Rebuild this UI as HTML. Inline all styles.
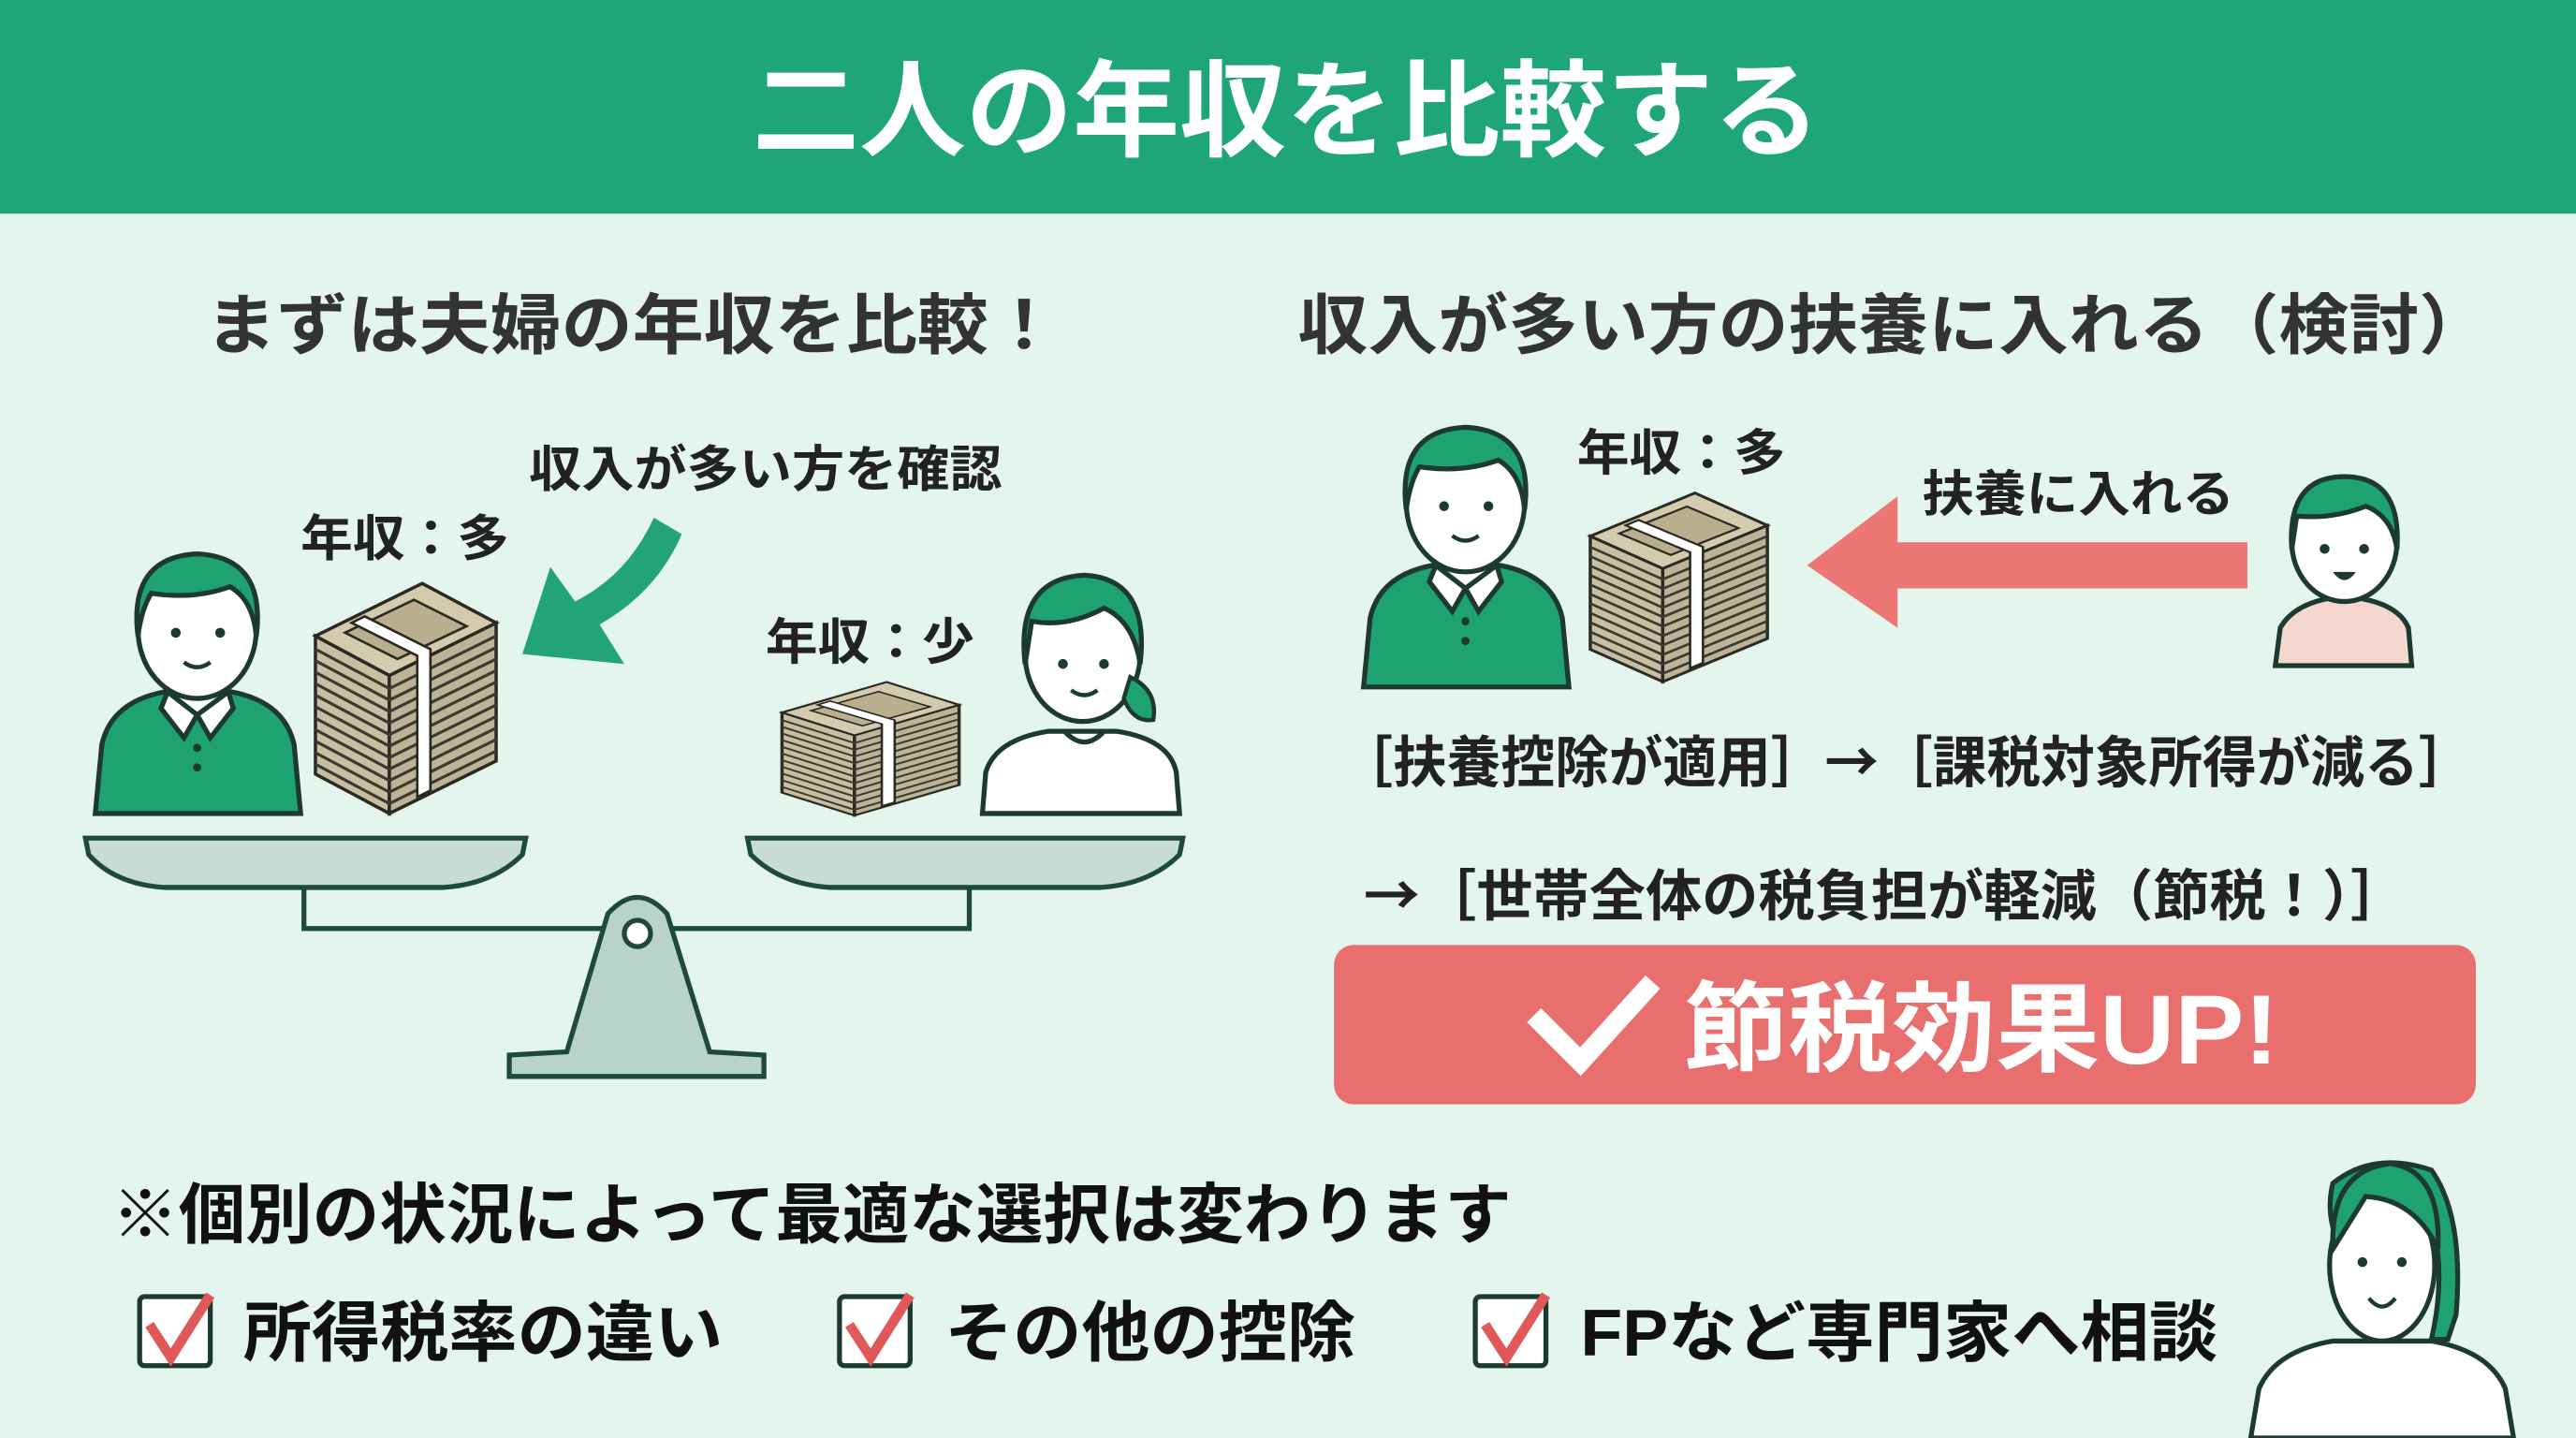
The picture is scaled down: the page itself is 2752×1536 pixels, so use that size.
<!DOCTYPE html>
<html><head><meta charset="utf-8"><style>
html,body{margin:0;padding:0;background:#e5f5ee;}
svg{display:block}
text{font-family:"Liberation Sans","Noto Sans CJK JP",sans-serif;font-weight:700;}
</style></head><body>
<svg width="2752" height="1536" viewBox="0 0 1568 875" preserveAspectRatio="none" xmlns="http://www.w3.org/2000/svg">
<defs>
<g id="man">
  <path d="M0,160 L4,118 Q10,92 42,86 L83,86 Q115,92 121,118 L125,160 Z" fill="#1fa271" stroke="#1d3a30" stroke-width="3"/>
  <path d="M48,70 L48,90 L62,100 L77,90 L77,70 Z" fill="#fff" stroke="#1d3a30" stroke-width="3"/>
  <path d="M44,86 L62,100 L54,114 L40,96 Z M81,86 L62,100 L70,114 L84,96 Z" fill="#fff" stroke="#1d3a30" stroke-width="3"/>
  <circle cx="62" cy="120" r="2.5" fill="#1d3a30"/><circle cx="62" cy="132" r="2.5" fill="#1d3a30"/>
  <ellipse cx="62" cy="48" rx="36" ry="42" fill="#fff" stroke="#1d3a30" stroke-width="3"/>
  <path d="M26,52 Q20,4 62,2 Q104,4 98,52 Q96,30 82,22 Q60,30 34,26 Q28,36 26,52 Z" fill="#1fa271" stroke="#1d3a30" stroke-width="3"/>
  <circle cx="49" cy="50" r="3" fill="#1d3a30"/><circle cx="76" cy="50" r="3" fill="#1d3a30"/>
  <path d="M54,68 Q62,74 70,68" fill="none" stroke="#1d3a30" stroke-width="2.5"/>
</g>
<g id="money">
  <path d="M0,32 L45,56 L45,140 L0,116 Z" fill="#c8bea2" stroke="#2a2a22" stroke-width="2"/>
  <path d="M45,56 L110,24 L110,108 L45,140 Z" fill="#bdb396" stroke="#2a2a22" stroke-width="2"/>
  <g stroke="#3a3a30" stroke-width="1.8" fill="none">
   <path d="M0,40 L45,64 L110,32 M0,47 L45,71 L110,39 M0,54 L45,78 L110,46 M0,61 L45,85 L110,53 M0,68 L45,92 L110,60 M0,75 L45,99 L110,67 M0,82 L45,106 L110,74 M0,89 L45,113 L110,81 M0,96 L45,120 L110,88 M0,103 L45,127 L110,95 M0,110 L45,134 L110,102"/>
  </g>
  <path d="M0,32 L65,0 L110,24 L45,56 Z" fill="#d4cbae" stroke="#2a2a22" stroke-width="2"/>
  <path d="M18,30 L60,10 L92,26 L50,46 Z" fill="#b9ae8e" stroke="#2a2a22" stroke-width="1.5"/>
  <path d="M30,20 L70,40 L70,126 L62,130 L62,44 L22,24 Z" fill="#fff" stroke="#2a2a22" stroke-width="1.5"/>
</g>
</defs>
<rect width="1568" height="875" fill="#e3f5ec"/>
<rect width="1568" height="130" fill="#1fa676"/>
<text x="783" y="90" font-size="64" fill="#fff" text-anchor="middle" textLength="650" lengthAdjust="spacingAndGlyphs">二人の年収を比較する</text>

<text x="125" y="212" font-size="40" fill="#333" textLength="520" lengthAdjust="spacingAndGlyphs">まずは夫婦の年収を比較！</text>
<text x="790" y="212" font-size="40" fill="#333" textLength="725" lengthAdjust="spacingAndGlyphs">収入が多い方の扶養に入れる（検討）</text>

<text x="322" y="296" font-size="30" fill="#222" textLength="288" lengthAdjust="spacingAndGlyphs">収入が多い方を確認</text>
<text x="183" y="338" font-size="30" fill="#222" textLength="127" lengthAdjust="spacingAndGlyphs">年収：多</text>
<text x="466" y="401" font-size="30" fill="#222" textLength="127" lengthAdjust="spacingAndGlyphs">年収：少</text>
<path d="M398,315 L415,325 Q400,360 365,380 L380,404 L318,398 L335,345 L350,366 Q382,350 398,315 Z" fill="#22a37a"/>

<use href="#man" x="58" y="335"/>
<use href="#money" x="192" y="355"/>
<g transform="translate(476,415) scale(0.98,0.58)"><use href="#money"/></g>
<g>
  <path d="M598,495 L600,470 Q606,450 638,445 L680,445 Q712,450 716,470 L718,495 Z" fill="#fff" stroke="#1d3a30" stroke-width="3"/>
  <path d="M648,445 Q660,458 672,445" fill="none" stroke="#1d3a30" stroke-width="3"/>
  <ellipse cx="659" cy="398" rx="35" ry="41" fill="#fff" stroke="#1d3a30" stroke-width="3"/>
  <path d="M624,404 Q618,352 660,350 Q700,352 694,404 Q690,378 672,370 Q650,382 628,378 Z" fill="#1fa271" stroke="#1d3a30" stroke-width="3"/>
  <path d="M688,412 Q705,420 702,438 Q690,440 684,425 Z" fill="#1fa271" stroke="#1d3a30" stroke-width="2.5"/>
  <circle cx="647" cy="404" r="3" fill="#1d3a30"/><circle cx="672" cy="404" r="3" fill="#1d3a30"/>
  <path d="M652,420 Q660,426 668,420" fill="none" stroke="#1d3a30" stroke-width="2.5"/>
</g>
<g stroke="#1d4a3a" stroke-width="3">
  <path d="M52,510 L320,510 L318,520 Q300,538 270,540 L100,540 Q70,538 54,520 Z" fill="#c7dcd6"/>
  <path d="M455,510 L720,510 L718,520 Q700,538 670,540 L505,540 Q475,538 457,520 Z" fill="#c7dcd6"/>
  <path d="M185,540 L185,565 L590,565 L590,540" fill="none"/>
  <path d="M310,655 L310,642 L345,640 L370,556 Q388,536 406,556 L432,640 L465,642 L465,655 Z" fill="#b9d2cc"/>
  <circle cx="388" cy="568" r="8" fill="#fff"/>
</g>

<use href="#man" x="830" y="258"/>
<text x="960" y="286" font-size="30" fill="#222" textLength="127" lengthAdjust="spacingAndGlyphs">年収：多</text>
<g transform="translate(968,300) scale(0.98,0.82)"><use href="#money"/></g>
<text x="1170" y="311" font-size="30" fill="#222" textLength="190" lengthAdjust="spacingAndGlyphs">扶養に入れる</text>
<path d="M1368,330 L1155,330 L1155,302 L1100,344 L1155,382 L1155,358 L1368,358 Z" fill="#ec7775"/>
<g>
  <path d="M1385,405 L1388,382 Q1396,368 1418,364 L1436,364 Q1460,368 1466,382 L1468,405 Z" fill="#f4d7ce" stroke="#1d3a30" stroke-width="3"/>
  <ellipse cx="1427" cy="330" rx="32" ry="36" fill="#fff" stroke="#1d3a30" stroke-width="3"/>
  <path d="M1395,334 Q1392,290 1427,290 Q1462,290 1459,334 Q1456,314 1440,308 Q1420,316 1398,314 Z" fill="#1fa271" stroke="#1d3a30" stroke-width="3"/>
  <circle cx="1415" cy="334" r="3" fill="#1d3a30"/><circle cx="1439" cy="334" r="3" fill="#1d3a30"/>
  <path d="M1420,348 Q1427,358 1434,348 Z" fill="#1d3a30"/>
</g>
<text x="815" y="476" font-size="34" fill="#222" textLength="690" lengthAdjust="spacingAndGlyphs">［扶養控除が適用］<tspan font-family="Noto Sans CJK JP">→</tspan>［課税対象所得が減る］</text>
<text x="830" y="557" font-size="34" fill="#222" textLength="635" lengthAdjust="spacingAndGlyphs"><tspan font-family="Noto Sans CJK JP">→</tspan>［世帯全体の税負担が軽減（節税！）］</text>
<rect x="812" y="575" width="695" height="97" rx="12" fill="#e96f6f"/>
<path d="M938,622 L962,646 L1002,602" fill="none" stroke="#fff" stroke-width="12" stroke-linecap="square"/>
<text x="1025" y="647" font-size="60" fill="#fff" textLength="362" lengthAdjust="spacingAndGlyphs">節税効果UP!</text>

<text x="68" y="753" font-size="40" fill="#111" textLength="852" lengthAdjust="spacingAndGlyphs">※個別の状況によって最適な選択は変わります</text>
<g stroke="#1d3a30" stroke-width="3" fill="#fff">
  <rect x="85" y="789" width="43" height="42" rx="3"/>
  <rect x="511" y="789" width="43" height="42" rx="3"/>
  <rect x="898" y="789" width="43" height="42" rx="3"/>
</g>
<g stroke="#e05858" stroke-width="6" fill="none">
  <path d="M91,806 L104,826 L128,788"/>
  <path d="M517,806 L530,826 L554,788"/>
  <path d="M904,806 L917,826 L941,788"/>
</g>
<text x="148" y="825" font-size="40" fill="#111" textLength="292" lengthAdjust="spacingAndGlyphs">所得税率の違い</text>
<text x="575" y="825" font-size="40" fill="#111" textLength="250" lengthAdjust="spacingAndGlyphs">その他の控除</text>
<text x="962" y="825" font-size="40" fill="#111" textLength="388" lengthAdjust="spacingAndGlyphs">FPなど専門家へ相談</text>
<g>
  <path d="M1370,875 L1375,845 Q1385,822 1420,816 L1480,816 Q1515,822 1525,845 L1530,875 Z" fill="#fff" stroke="#1d3a30" stroke-width="3"/>
  <path d="M1425,760 Q1415,740 1420,720 Q1445,700 1480,712 Q1500,740 1495,800 L1490,815 L1480,815 Q1488,780 1482,750 Q1460,740 1440,760 Z" fill="#1fa271" stroke="#1d3a30" stroke-width="3"/>
  <ellipse cx="1450" cy="770" rx="32" ry="46" fill="#fff" stroke="#1d3a30" stroke-width="3"/>
  <path d="M1420,760 Q1418,712 1455,708 Q1486,712 1484,760 Q1470,730 1440,728 Z" fill="#1fa271" stroke="#1d3a30" stroke-width="3"/>
  <circle cx="1438" cy="768" r="3" fill="#1d3a30"/><circle cx="1462" cy="768" r="3" fill="#1d3a30"/>
  <path d="M1442,790 Q1450,800 1458,790" fill="none" stroke="#1d3a30" stroke-width="2.5"/>
</g>
</svg>
</body></html>
